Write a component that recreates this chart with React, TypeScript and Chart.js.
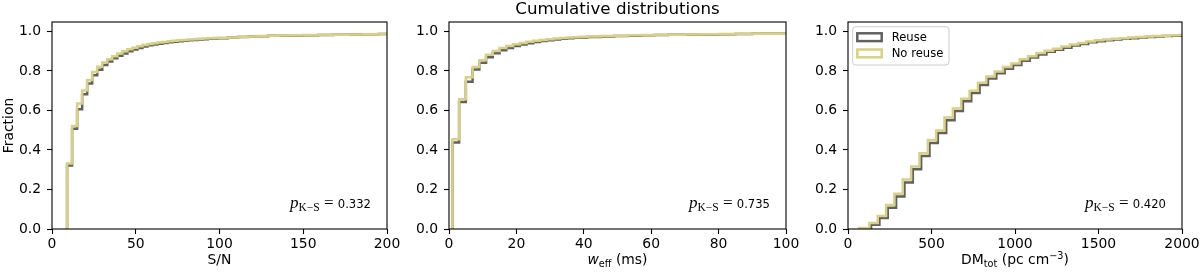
import React, { useEffect, useRef } from "react";
import { Chart, registerables } from "chart.js";

Chart.register(...registerables);

// ---------------- data ----------------
const FIG_TITLE = "Cumulative distributions";
const SERIES_LABELS = ["Reuse", "No reuse"];
const Y_LABEL = "Fraction";
const Y_TICKS = [0, 0.2, 0.4, 0.6, 0.8, 1.0];

// S/N panel
const snrEdges = [
  9, 12, 15, 18, 21, 24, 27, 30, 33, 36, 39, 42, 45, 48, 51, 54, 57, 60, 63, 66,
  69, 72, 75, 78, 81, 84, 87, 90, 93, 96, 99, 105, 111, 117, 123, 129, 135, 141,
  150, 159, 168, 177, 186, 195, 200,
];
const snrReuse = [
  0.322, 0.507, 0.606, 0.682, 0.737, 0.778, 0.806, 0.83, 0.848, 0.864, 0.877,
  0.889, 0.9, 0.909, 0.917, 0.924, 0.93, 0.934, 0.938, 0.942, 0.945, 0.948,
  0.951, 0.953, 0.955, 0.957, 0.959, 0.961, 0.963, 0.965, 0.966, 0.969, 0.972,
  0.974, 0.976, 0.978, 0.979, 0.98, 0.981, 0.982, 0.984, 0.985, 0.986, 0.987,
  0.988,
];
const snrNoReuse = [
  0.332, 0.522, 0.636, 0.701, 0.754, 0.795, 0.821, 0.843, 0.86, 0.875, 0.889,
  0.9, 0.91, 0.918, 0.925, 0.931, 0.936, 0.94, 0.944, 0.947, 0.95, 0.953, 0.955,
  0.957, 0.959, 0.961, 0.963, 0.964, 0.966, 0.967, 0.968, 0.97, 0.973, 0.975,
  0.977, 0.978, 0.98, 0.981, 0.982, 0.983, 0.984, 0.985, 0.986, 0.987, 0.988,
];
const snrTicks = [0, 50, 100, 150, 200];
const snrPValue = "0.332";

// w_eff panel
const weffEdges = [
  1, 3, 5, 7, 9, 11, 13, 15, 17, 19, 21, 23, 25, 27, 29, 31, 33, 35, 37, 39, 41,
  45, 49, 53, 57, 61, 65, 70, 75, 80, 85, 90, 95, 100,
];
const weffReuse = [
  0.438, 0.643, 0.746, 0.808, 0.842, 0.87, 0.89, 0.905, 0.917, 0.926, 0.934,
  0.941, 0.947, 0.952, 0.956, 0.96, 0.963, 0.966, 0.968, 0.97, 0.972, 0.975,
  0.977, 0.979, 0.981, 0.982, 0.983, 0.984, 0.985, 0.986, 0.987, 0.988, 0.989,
  0.99,
];
const weffNoReuse = [
  0.455, 0.657, 0.768, 0.82, 0.854, 0.882, 0.901, 0.916, 0.927, 0.935, 0.942,
  0.948, 0.953, 0.957, 0.961, 0.964, 0.967, 0.969, 0.971, 0.973, 0.975, 0.977,
  0.979, 0.981, 0.982, 0.983, 0.984, 0.985, 0.986, 0.987, 0.988, 0.989, 0.989,
  0.99,
];
const weffTicks = [0, 20, 40, 60, 80, 100];
const weffPValue = "0.735";

// DM panel
const dmEdgesReuse = [
  75, 138, 188, 238, 288, 338, 388, 438, 488, 538, 588, 638, 688, 738, 788, 838,
  888, 938, 988, 1038, 1088, 1138, 1188, 1238, 1288, 1338, 1388, 1438, 1488,
  1538, 1588, 1638, 1688, 1738, 1788, 1838, 1888, 1938, 1988, 2038,
];
const dmReuse = [
  0.004, 0.022, 0.056, 0.108, 0.165, 0.235, 0.302, 0.369, 0.435, 0.486, 0.55,
  0.597, 0.647, 0.688, 0.729, 0.762, 0.788, 0.811, 0.83, 0.852, 0.868, 0.884,
  0.897, 0.907, 0.918, 0.929, 0.937, 0.945, 0.951, 0.956, 0.96, 0.963, 0.966,
  0.969, 0.972, 0.975, 0.977, 0.979, 0.98, 0.981,
];
const dmEdgesNoReuse = [
  65, 128, 178, 228, 278, 328, 378, 428, 478, 528, 578, 628, 678, 728, 778, 828,
  878, 928, 978, 1028, 1078, 1128, 1178, 1228, 1278, 1328, 1378, 1428, 1478,
  1528, 1578, 1628, 1678, 1728, 1778, 1828, 1878, 1928, 1978, 2028,
];
const dmNoReuse = [
  0.005, 0.03, 0.066, 0.121, 0.178, 0.25, 0.317, 0.384, 0.45, 0.499, 0.564,
  0.61, 0.66, 0.7, 0.74, 0.772, 0.797, 0.82, 0.838, 0.86, 0.875, 0.891, 0.903,
  0.913, 0.924, 0.934, 0.942, 0.949, 0.955, 0.96, 0.963, 0.966, 0.969, 0.972,
  0.975, 0.977, 0.979, 0.981, 0.982, 0.983,
];
const dmTicks = [0, 500, 1000, 1500, 2000];
const dmPValue = "0.420";

// ---------------- styling ----------------
const GRAY = "#616161";
const KHAKI = "#d8d083";
const SANS = "'DejaVu Sans', sans-serif";
const TICK_SIZE = 13.9;
const SMALL_SIZE = 11.6;
const CANVAS_W = 430;
const H = 275;
const LINE_W = 2.5;

type Part = { text: string; font: string; dy?: number };

function drawParts(
  ctx: CanvasRenderingContext2D,
  parts: Part[],
  x: number,
  y: number,
  align: "left" | "center" | "right"
) {
  let total = 0;
  const widths: number[] = [];
  for (const p of parts) {
    ctx.font = p.font;
    const w = ctx.measureText(p.text).width;
    widths.push(w);
    total += w;
  }
  let cx = align === "center" ? x - total / 2 : align === "right" ? x - total : x;
  ctx.textAlign = "left";
  ctx.textBaseline = "alphabetic";
  parts.forEach((p, i) => {
    ctx.font = p.font;
    ctx.fillText(p.text, cx, y + (p.dy || 0));
    cx += widths[i];
  });
}

type PanelSpec = {
  canvasLeft: number;
  plot: { left: number; right: number; top: number; bottom: number };
  xMax: number;
  xTicks: number[];
  edgesReuse: number[];
  reuse: number[];
  edgesNoReuse: number[];
  noReuse: number[];
  xLabel: Part[];
  pValue: string;
  yLabel: boolean;
  legend: boolean;
  title: boolean;
};

const sub = `${9.7}px ${SANS}`;
const main = `${TICK_SIZE}px ${SANS}`;

const PANELS: PanelSpec[] = [
  {
    canvasLeft: 0,
    plot: { left: 52, right: 387, top: 22, bottom: 229 },
    xMax: 200,
    xTicks: snrTicks,
    edgesReuse: snrEdges,
    reuse: snrReuse,
    edgesNoReuse: snrEdges,
    noReuse: snrNoReuse,
    xLabel: [{ text: "S/N", font: main }],
    pValue: snrPValue,
    yLabel: true,
    legend: false,
    title: false,
  },
  {
    canvasLeft: 400,
    plot: { left: 449, right: 786, top: 22, bottom: 229 },
    xMax: 100,
    xTicks: weffTicks,
    edgesReuse: weffEdges,
    reuse: weffReuse,
    edgesNoReuse: weffEdges,
    noReuse: weffNoReuse,
    xLabel: [
      { text: "w", font: `oblique ${TICK_SIZE}px ${SANS}` },
      { text: "eff", font: sub, dy: 3 },
      { text: " (ms)", font: main },
    ],
    pValue: weffPValue,
    yLabel: false,
    legend: false,
    title: true,
  },
  {
    canvasLeft: 800,
    plot: { left: 848, right: 1182, top: 22, bottom: 229 },
    xMax: 2000,
    xTicks: dmTicks,
    edgesReuse: dmEdgesReuse,
    reuse: dmReuse,
    edgesNoReuse: dmEdgesNoReuse,
    noReuse: dmNoReuse,
    xLabel: [
      { text: "DM", font: main },
      { text: "tot", font: sub, dy: 3 },
      { text: " (pc cm", font: main },
      { text: "\u22123", font: sub, dy: -5.5 },
      { text: ")", font: main },
    ],
    pValue: dmPValue,
    yLabel: false,
    legend: true,
    title: false,
  },
];

function toSteps(edges: number[], vals: number[]) {
  const pts = [{ x: edges[0], y: 0 }];
  edges.forEach((e, i) => pts.push({ x: e, y: vals[i] }));
  return pts;
}

function Panel({ spec }: { spec: PanelSpec }) {
  const ref = useRef<HTMLCanvasElement | null>(null);
  useEffect(() => {
    const canvas = ref.current;
    if (!canvas) return;
    const off = spec.canvasLeft;
    const p = spec.plot;
    const overlay = {
      id: "overlay",
      afterDatasetsDraw(chart: any) {
        const ctx: CanvasRenderingContext2D = chart.ctx;
        const a = chart.chartArea;
        ctx.save();
        ctx.strokeStyle = "#000";
        ctx.lineWidth = 1.1;
        ctx.strokeRect(a.left, a.top, a.right - a.left, a.bottom - a.top);
        ctx.fillStyle = "#000";
        // x label
        drawParts(ctx, spec.xLabel, (a.left + a.right) / 2, 264, "center");
        // p value annotation
        drawParts(
          ctx,
          [
            { text: "p", font: `italic 17px 'Liberation Serif', serif` },
            { text: "K\u2212S", font: `11.5px 'Liberation Serif', serif`, dy: 3 },
            { text: " = ", font: `17px 'Liberation Serif', serif` },
            { text: spec.pValue, font: `${SMALL_SIZE}px ${SANS}` },
          ],
          a.right - 16,
          a.bottom - 20.8,
          "right"
        );
        if (spec.yLabel) {
          ctx.save();
          ctx.translate(12.5, (a.top + a.bottom) / 2);
          ctx.rotate(-Math.PI / 2);
          ctx.font = main;
          ctx.textAlign = "center";
          ctx.textBaseline = "alphabetic";
          ctx.fillText(Y_LABEL, 0, 0);
          ctx.restore();
        }
        if (spec.title) {
          ctx.font = `16.7px ${SANS}`;
          ctx.textAlign = "center";
          ctx.textBaseline = "alphabetic";
          ctx.fillText(FIG_TITLE, 617.5 - off, 14);
        }
        if (spec.legend) {
          const lx = a.left + 4.7;
          const ly = a.top + 4.7;
          ctx.beginPath();
          (ctx as any).roundRect(lx, ly, 96.3, 38.3, 3);
          ctx.fillStyle = "rgba(255,255,255,0.8)";
          ctx.fill();
          ctx.strokeStyle = "#cccccc";
          ctx.lineWidth = 1;
          ctx.stroke();
          const colors = [GRAY, KHAKI];
          SERIES_LABELS.forEach((lab, i) => {
            const ry = ly + 6.6 + i * 16.2;
            ctx.strokeStyle = colors[i];
            ctx.lineWidth = LINE_W;
            ctx.strokeRect(lx + 4.6, ry, 24.4, 7.8);
            ctx.fillStyle = "#000";
            ctx.font = `${SMALL_SIZE}px ${SANS}`;
            ctx.textAlign = "left";
            ctx.textBaseline = "middle";
            ctx.fillText(lab, lx + 39, ry + 4.2);
          });
        }
        ctx.restore();
      },
    };
    const chart = new Chart(canvas, {
      type: "line",
      data: {
        datasets: [
          {
            label: SERIES_LABELS[1],
            data: toSteps(spec.edgesNoReuse, spec.noReuse),
            borderColor: KHAKI,
            borderWidth: LINE_W,
            stepped: true,
            pointRadius: 0,
            fill: false,
            order: 0,
          },
          {
            label: SERIES_LABELS[0],
            data: toSteps(spec.edgesReuse, spec.reuse),
            borderColor: GRAY,
            borderWidth: LINE_W,
            stepped: true,
            pointRadius: 0,
            fill: false,
            order: 1,
          },
        ],
      },
      options: {
        responsive: false,
        maintainAspectRatio: false,
        animation: false,
        events: [],
        layout: {
          padding: {
            left: 0,
            top: p.top,
            right: off + CANVAS_W - p.right,
            bottom: 0,
          },
        },
        plugins: {
          legend: { display: false },
          tooltip: { enabled: false },
          title: { display: false },
        },
        scales: {
          x: {
            type: "linear",
            min: 0,
            max: spec.xMax,
            afterFit: (axis: any) => {
              axis.height = H - p.bottom;
            },
            afterBuildTicks: (axis: any) => {
              axis.ticks = spec.xTicks.map((v) => ({ value: v }));
            },
            ticks: {
              color: "#000",
              font: { family: "DejaVu Sans", size: TICK_SIZE },
              padding: 2,
              maxRotation: 0,
              autoSkip: false,
              callback: (v: any) => String(v),
            },
            grid: {
              drawOnChartArea: false,
              drawTicks: true,
              tickLength: 5,
              tickColor: "#000",
              tickWidth: 1.1,
            },
            border: { display: false },
          },
          y: {
            type: "linear",
            min: 0,
            max: 1.048,
            afterFit: (axis: any) => {
              axis.width = p.left - off;
            },
            afterBuildTicks: (axis: any) => {
              axis.ticks = Y_TICKS.map((v) => ({ value: v }));
            },
            ticks: {
              color: "#000",
              font: { family: "DejaVu Sans", size: TICK_SIZE },
              padding: 6,
              autoSkip: false,
              callback: (v: any) => Number(v).toFixed(1),
            },
            grid: {
              drawOnChartArea: false,
              drawTicks: true,
              tickLength: 5,
              tickColor: "#000",
              tickWidth: 1.1,
            },
            border: { display: false },
          },
        },
      },
      plugins: [overlay],
    } as any);
    return () => chart.destroy();
  }, [spec]);
  return (
    <canvas
      ref={ref}
      width={CANVAS_W}
      height={H}
      style={{
        position: "absolute",
        left: spec.canvasLeft,
        top: 0,
        width: CANVAS_W,
        height: H,
      }}
    />
  );
}

export default function App() {
  return (
    <div
      style={{
        position: "fixed",
        left: 0,
        top: 0,
        width: 1200,
        height: H,
        overflow: "hidden",
        background: "#fff",
      }}
    >
      {PANELS.map((s, i) => (
        <Panel key={i} spec={s} />
      ))}
    </div>
  );
}
